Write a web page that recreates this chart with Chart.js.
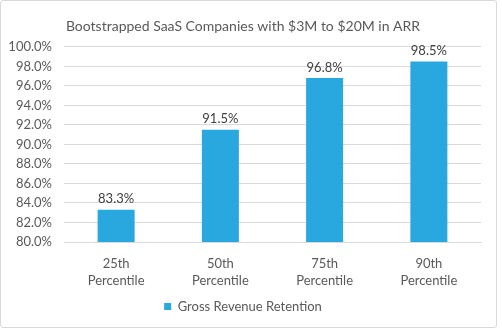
<!DOCTYPE html>
<html>
<head>
<meta charset="utf-8">
<script src="https://cdn.jsdelivr.net/npm/chart.js@4/dist/chart.umd.min.js"></script>
<style>
  html, body { margin: 0; padding: 0; background: #fff; }
  #wrap { position: absolute; left: 0; top: 0; width: 495px; height: 326px; border: 1px solid #d9d9d9; border-radius: 3px; box-sizing: content-box; }
  canvas { display: block; }
</style>
</head>
<body>
<div id="wrap"><canvas id="c" width="495" height="326"></canvas></div>
<script>
const categories = [["25th", "Percentile"], ["50th", "Percentile"], ["75th", "Percentile"], ["90th", "Percentile"]];
const retention = [83.3, 91.5, 96.8, 98.5];
const seriesName = "Gross Revenue Retention";
const chartTitle = "Bootstrapped SaaS Companies with $3M to $20M in ARR";

const FONT = "Lato, 'Open Sans', sans-serif";
const TEXT = "#595959";

// Writes each bar's value just above it
const valueLabels = {
  id: "valueLabels",
  afterDatasetsDraw(chart) {
    const ctx = chart.ctx;
    const meta = chart.getDatasetMeta(0);
    ctx.save();
    ctx.font = "13px " + FONT;
    ctx.fillStyle = "#404040";
    ctx.textAlign = "center";
    ctx.textBaseline = "bottom";
    meta.data.forEach((bar, i) => {
      const v = chart.data.datasets[0].data[i];
      ctx.fillText(v.toFixed(1) + "%", bar.x, bar.y - 4);
    });
    ctx.restore();
  }
};

new Chart(document.getElementById("c"), {
  type: "bar",
  data: {
    labels: categories,
    datasets: [{
      label: seriesName,
      data: retention,
      backgroundColor: "#29A8E0",
      categoryPercentage: 1.0,
      barPercentage: 0.355
    }]
  },
  options: {
    responsive: false,
    animation: false,
    layout: { padding: { left: 4, right: 15, top: 10, bottom: 4 } },
    plugins: {
      title: {
        display: true,
        text: chartTitle,
        color: TEXT,
        font: { family: FONT, size: 14, weight: "normal" },
        padding: { top: 7, bottom: 12 }
      },
      legend: {
        display: true,
        position: "bottom",
        labels: {
          color: TEXT,
          font: { family: FONT, size: 13 },
          boxWidth: 7,
          boxHeight: 7,
          padding: 7
        }
      },
      tooltip: { enabled: false }
    },
    scales: {
      x: {
        grid: { display: false },
        border: { display: true, color: "#d9d9d9" },
        afterFit(scale) { scale.height = 51; },
        ticks: { color: TEXT, font: { family: FONT, size: 13, lineHeight: 1.3 }, padding: 5, maxRotation: 0 }
      },
      y: {
        min: 80,
        max: 100,
        border: { display: false },
        grid: { color: "#d9d9d9", drawTicks: false },
        afterFit(scale) { scale.width = 59; },
        ticks: {
          stepSize: 2,
          color: TEXT,
          font: { family: FONT, size: 13 },
          padding: 12,
          callback: v => v.toFixed(1) + "%"
        }
      }
    }
  },
  plugins: [valueLabels]
});
</script>
</body>
</html>
